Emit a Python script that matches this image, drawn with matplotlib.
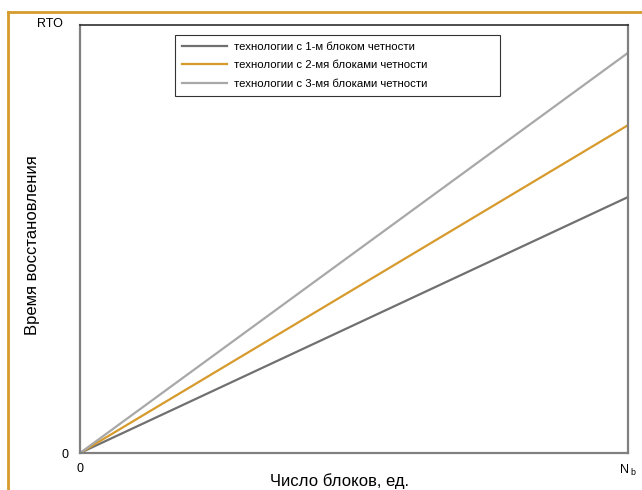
import numpy as np
import matplotlib
matplotlib.use('Agg')
from matplotlib import pyplot as plt
from matplotlib.lines import Line2D
from matplotlib.transforms import ScaledTranslation

plt.rcParams['font.family'] = ['Liberation Sans', 'DejaVu Sans']

# data: recovery time grows linearly with number of blocks
x = [0, 1]
series_names = ['технологии с 1-м блоком четности',
                'технологии с 2-мя блоками четности',
                'технологии с 3-мя блоками четности']
y_one = [0, 0.598]
y_two = [0, 0.766]
y_three = [0, 0.935]
colours = ['#707070', '#D69A2D', '#A8A8A8']

x_ticks = [0, 1]
x_ticklabels = ['0', r'N$_{\ \mathregular{b}}$']
y_ticks = [0, 1]
y_ticklabels = ['0', 'RTO']

fig = plt.figure(figsize=(6.42, 4.90), dpi=100)
ax = fig.add_axes([80/642, 1-453/490, 548/642, 428/490])

for yy, c, lab in zip([y_one, y_two, y_three], colours, series_names):
    ax.plot(x, yy, color=c, lw=1.6, label=lab)

ax.set_xlim(0, 1)
ax.set_ylim(0, 1)
ax.set_xticks(x_ticks)
ax.set_xticklabels(x_ticklabels)
ax.set_yticks(y_ticks)
ax.set_yticklabels(y_ticklabels)
ax.tick_params(length=0, labelsize=9)
ax.tick_params(axis='y', pad=8)
ax.tick_params(axis='x', pad=7)
rto = ax.get_yticklabels()[1]
rto.set_transform(rto.get_transform() + ScaledTranslation(-4/72, 2/72, fig.dpi_scale_trans))

for side in ['left', 'bottom', 'right']:
    ax.spines[side].set_color('#808080')
    ax.spines[side].set_linewidth(1.6)
ax.spines['top'].set_color('#303030')
ax.spines['top'].set_linewidth(1.2)

fig.text(340/642, 1-481/490, 'Число блоков, ед.', fontsize=12, ha='center', va='center')
fig.text(33/642, 1-245/490, 'Время восстановления', fontsize=12, ha='center',
         va='center', rotation=90)

leg = ax.legend(loc='upper left', bbox_to_anchor=(0.173, 0.83, 0.593, 0.147),
                mode='expand', fontsize=8.2,
                frameon=True, fancybox=False, handlelength=4.0,
                borderpad=0.6, labelspacing=0.75, handletextpad=0.6,
                borderaxespad=0)
leg.get_frame().set_edgecolor('black')
leg.get_frame().set_linewidth(0.8)

# orange border on top and left
fig.add_artist(Line2D([8/642, 1], [1-12/490, 1-12/490], color='#D69A2D', lw=2,
                      transform=fig.transFigure))
fig.add_artist(Line2D([8/642, 8/642], [0, 1-12/490], color='#D69A2D', lw=2,
                      transform=fig.transFigure))

fig.savefig('out.png', dpi=100)
